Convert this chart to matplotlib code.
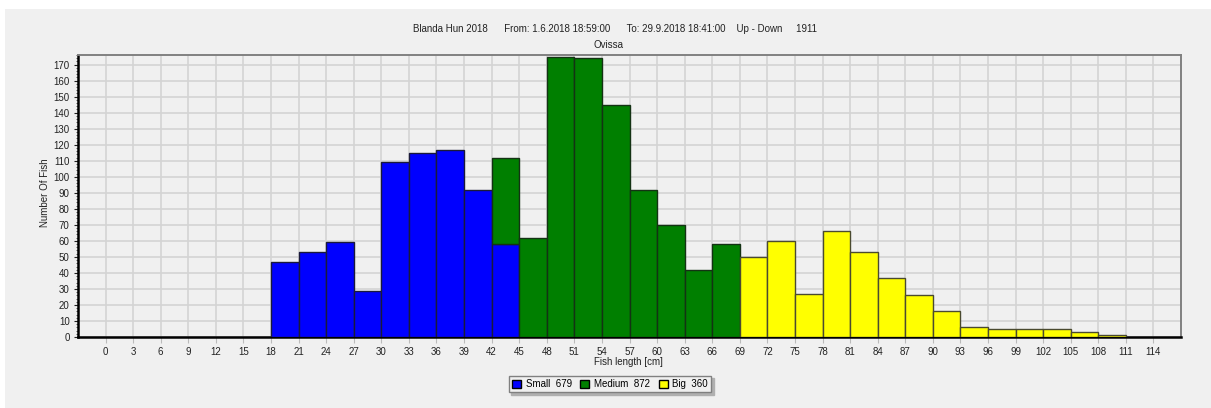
import matplotlib
matplotlib.use("Agg")
import matplotlib.pyplot as plt
import numpy as np

plt.rcParams['font.family'] = ['Liberation Sans', 'DejaVu Sans']

# Fish length classes (left edge of each 3 cm bin) and counts per size group
bin_starts = [18, 21, 24, 27, 30, 33, 36, 39, 42, 45, 48, 51, 54, 57, 60, 63, 66,
              69, 72, 75, 78, 81, 84, 87, 90, 93, 96, 99, 102, 105, 108]
small = [47, 53, 59, 29, 109, 115, 117, 92, 58, 0, 0, 0, 0, 0, 0, 0, 0,
         0, 0, 0, 0, 0, 0, 0, 0, 0, 0, 0, 0, 0, 0]
medium = [0, 0, 0, 0, 0, 0, 0, 0, 54, 62, 175, 174, 145, 92, 70, 42, 58,
          0, 0, 0, 0, 0, 0, 0, 0, 0, 0, 0, 0, 0, 0]
big = [0, 0, 0, 0, 0, 0, 0, 0, 0, 0, 0, 0, 0, 0, 0, 0, 0,
       50, 60, 27, 66, 53, 37, 26, 16, 6, 5, 5, 5, 3, 1]
x_ticks = list(range(0, 115, 3))

title = "Blanda Hun 2018      From: 1.6.2018 18:59:00      To: 29.9.2018 18:41:00    Up - Down     1911"
subtitle = "Ovissa"

bg = "#f0f0f0"
fig = plt.figure(figsize=(12.11, 4.08), dpi=100, facecolor="white")
# grey panel behind everything, leaving a thin white strip top/left
fig.patches.append(plt.Rectangle((5 / 1211, -0.01), 1.02, 1.01 - 9 / 408, transform=fig.transFigure,
                                 facecolor=bg, edgecolor="none", zorder=-10))

ax = fig.add_axes([78 / 1211, 1 - 337 / 408, (1181 - 78) / 1211, (337 - 55) / 408])
ax.set_facecolor(bg)

x = np.array(bin_starts, dtype=float)
s = np.array(small, dtype=float)
m = np.array(medium, dtype=float)
b = np.array(big, dtype=float)

def draw(vals, bottom, color, edge, label):
    mask = vals > 0
    ax.bar(x[mask], vals[mask], width=3, bottom=bottom[mask], align="edge",
           color=color, edgecolor=edge, linewidth=1.0, label=label, zorder=3)

draw(s, np.zeros_like(s), "#0000ff", "#1a1a3a", f"Small  {int(s.sum())}")
draw(m, s, "#007f00", "#143214", f"Medium  {int(m.sum())}")
draw(b, s + m, "#ffff00", "#4a4a30", f"Big  {int(b.sum())}")

ax.set_xlim(-3, 117)
ax.set_ylim(0, 176)
ax.set_xticks(x_ticks)
ax.set_xticklabels([str(t) for t in x_ticks])
ax.set_yticks(range(0, 171, 10))
ax.set_yticks(range(0, 177, 2), minor=True)
ax.tick_params(axis="both", labelsize=7, colors="#222222", length=3, width=0.8, pad=3)
ax.tick_params(axis="y", which="minor", length=1.5, width=0.6, colors="#444444")
ax.tick_params(axis="x", length=4, colors="#bbbbbb", labelcolor="#222222")

ax.grid(True, color="#d4d4d4", linewidth=1.2, zorder=0)
ax.set_axisbelow(True)

for side in ("left", "bottom"):
    ax.spines[side].set_color("black")
    ax.spines[side].set_linewidth(1.8)
for side in ("top", "right"):
    ax.spines[side].set_color("#808080")
    ax.spines[side].set_linewidth(1.4)

ax.set_xlabel("Fish length [cm]", fontsize=7, color="#222222")
ax.xaxis.set_label_coords(0.499, -0.07)
ax.set_ylabel("Number Of Fish", fontsize=7, color="#222222")
ax.yaxis.set_label_coords(-0.025, 0.51)

fig.text(615 / 1211, 1 - 29 / 408, title, ha="center", va="center", fontsize=7, color="#222222")
fig.text(609 / 1211, 1 - 45 / 408, subtitle, ha="center", va="center", fontsize=7, color="#222222")

leg = fig.legend(loc="center", bbox_to_anchor=(610 / 1211, 1 - 384 / 408), ncol=3,
                 fontsize=7, frameon=True, fancybox=False, shadow={"color": "#b0b0b0", "alpha": 1.0},
                 handlelength=0.9, handleheight=0.9, handletextpad=0.5, columnspacing=0.9,
                 borderpad=0.35, borderaxespad=0)
leg.get_frame().set_edgecolor("#808080")
leg.get_frame().set_facecolor(bg)
leg.get_frame().set_linewidth(1.0)
for h in leg.legend_handles:
    h.set_edgecolor("black")

fig.savefig("out.png", dpi=100, facecolor="white")
